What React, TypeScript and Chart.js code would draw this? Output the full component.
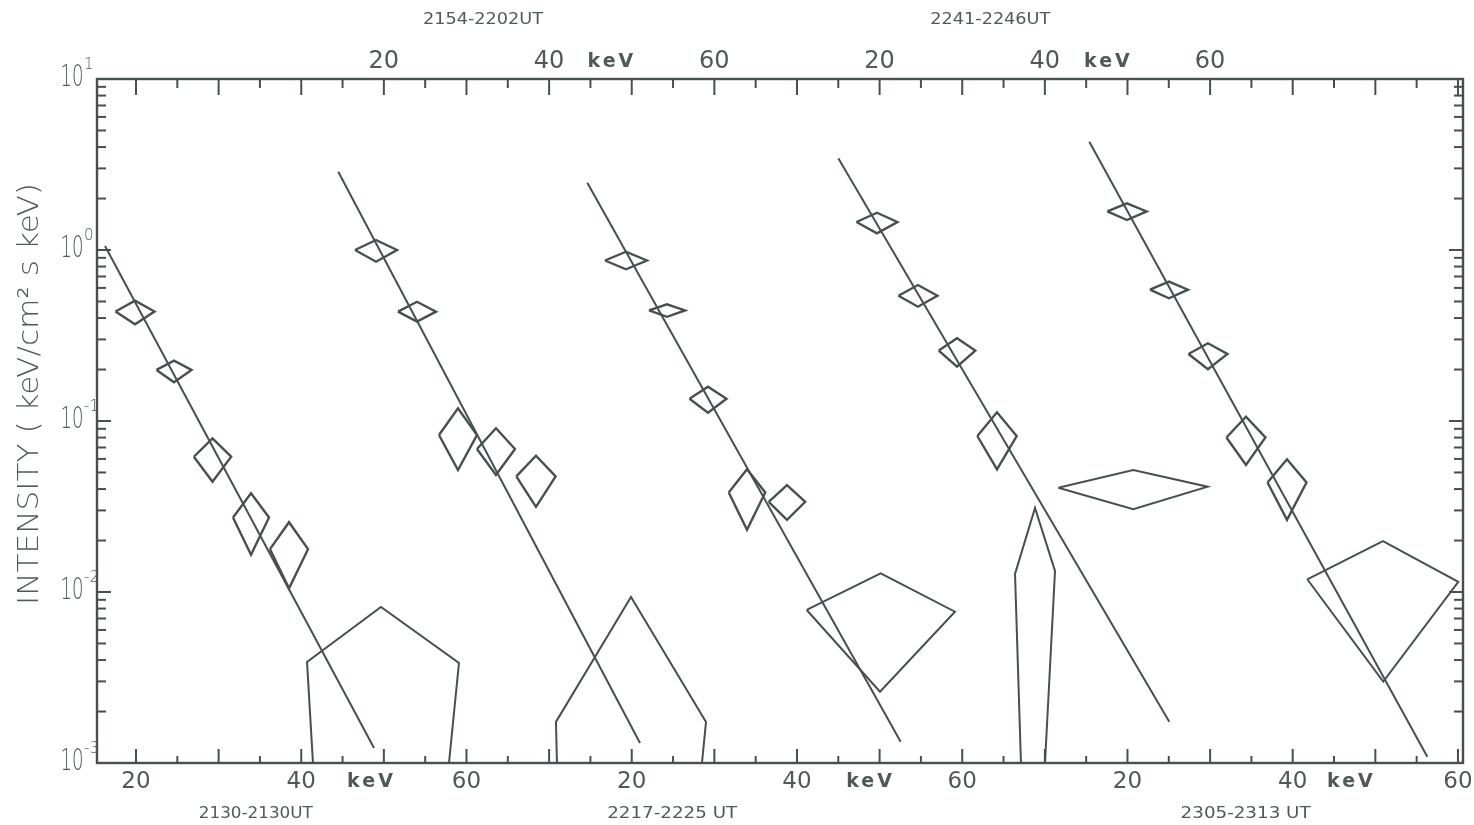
import React, { useEffect, useRef } from 'react';
import { Chart, registerables } from 'chart.js';

Chart.register(...registerables);

// ---- axis ranges (combined energy axis; each spectrum is offset along it) ----
const X_MIN = 15.28;
const X_MAX = 180.61;
const Y_MIN = 0.001;
const Y_MAX = 10;

// ---- time intervals of the five spectra ----
const bottomTimes = ['2130-2130UT', '2217-2225 UT', '2305-2313 UT'];
const bottomTimePos = [34.5, 84.9, 154.3];
const topTimes = ['2154-2202UT', '2241-2246UT'];
const topTimePos = [62.0, 123.4];

// ---- axis tick labels ----
const bottomLabelPos = [20, 40, 48.5, 60, 80, 100, 108.9, 120, 140, 160, 167.1, 180];
const bottomLabelText = ['20', '40', 'keV', '60', '20', '40', 'keV', '60', '20', '40', 'keV', '60'];
const topLabelPos = [50, 70, 77.6, 90, 110, 130, 137.7, 150];
const topLabelText = ['20', '40', 'keV', '60', '20', '40', 'keV', '60'];
const yDecades = [0.001, 0.01, 0.1, 1, 10];
const yDecadeExp = ['-3', '-2', '-1', '0', '1'];

// ---- power-law fit lines: [start, end] ----
const fitEnergy = [
  [16.25, 48.81],
  [44.48, 81.0],
  [74.62, 112.55],
  [105.0, 145.06],
  [135.38, 176.29],
];
const fitIntensity = [
  [1.055, 0.001225],
  [2.871, 0.001309],
  [2.475, 0.001332],
  [3.438, 0.001744],
  [4.298, 0.001088],
];

// ---- measured points (error diamonds) ----
const pointEnergy = [
  [19.88, 24.6, 29.26, 33.92, 38.52],
  [49.05, 54.01, 58.97, 63.57, 68.41],
  [79.3, 84.27, 89.23, 93.95, 98.79],
  [109.68, 114.64, 119.37, 124.21],
  [139.94, 145.02, 149.74, 154.34, 159.31],
];
const pointHalfWidth = [
  [2.36, 2.12, 2.26, 2.18, 2.3],
  [2.54, 2.3, 2.3, 2.3, 2.38],
  [2.54, 2.18, 2.24, 2.21, 2.21],
  [2.48, 2.36, 2.21, 2.38],
  [2.38, 2.3, 2.36, 2.36, 2.36],
];
const pointIntensity = [
  [0.437, 0.199, 0.0618, 0.0273, 0.0178],
  [1.0, 0.436, 0.0828, 0.0686, 0.0474],
  [0.868, 0.443, 0.135, 0.0382, 0.0337],
  [1.458, 0.54, 0.258, 0.0817],
  [1.68, 0.586, 0.2465, 0.0801, 0.0437],
];
const pointHigh = [
  [0.505, 0.2253, 0.0792, 0.0378, 0.0256],
  [1.144, 0.498, 0.1187, 0.0907, 0.0627],
  [0.977, 0.481, 0.1587, 0.0522, 0.0422],
  [1.652, 0.624, 0.3045, 0.1124],
  [1.876, 0.653, 0.2847, 0.106, 0.0597],
];
const pointLow = [
  [0.368, 0.1684, 0.0442, 0.0165, 0.0105],
  [0.854, 0.381, 0.0517, 0.0483, 0.0315],
  [0.771, 0.407, 0.1118, 0.0231, 0.0264],
  [1.252, 0.466, 0.2077, 0.0522],
  [1.497, 0.522, 0.2006, 0.0553, 0.0264],
];

// ---- high-energy outlines (upper-limit / wide-bin shapes) ----
const outlineEnergy = [
  [41.42, 40.7, 49.65, 59.09, 57.88],
  [70.95, 70.83, 79.91, 88.99, 88.5],
  [101.18, 110.13, 119.12, 110.05, 101.18],
  [127.11, 126.39, 128.81, 131.23, 130.02],
  [131.63, 140.7, 149.71, 140.7, 131.63],
  [161.76, 170.92, 180.04, 170.96, 161.76],
];
const outlineIntensity = [
  [0.001, 0.0039, 0.00818, 0.00385, 0.001],
  [0.001, 0.00174, 0.00935, 0.00174, 0.001],
  [0.00785, 0.01287, 0.00767, 0.00261, 0.00785],
  [0.001, 0.01275, 0.031, 0.01327, 0.001],
  [0.0407, 0.0517, 0.0413, 0.0305, 0.0407],
  [0.01187, 0.01987, 0.01148, 0.00299, 0.01187],
];

const INK = '#475050';
const TEXT = '#505858';
const FONT = "'DejaVu Sans', sans-serif";

function buildDatasets() {
  const ds: any[] = [];
  const base = {
    type: 'line',
    pointRadius: 0,
    borderColor: INK,
    backgroundColor: 'transparent',
    fill: false,
    tension: 0,
  };
  fitEnergy.forEach((e, i) => {
    ds.push({
      ...base,
      borderWidth: 2,
      data: e.map((x, k) => ({ x, y: fitIntensity[i][k] })),
    });
  });
  pointEnergy.forEach((row, p) => {
    row.forEach((e, k) => {
      const w = pointHalfWidth[p][k];
      const m = pointIntensity[p][k];
      ds.push({
        ...base,
        borderWidth: 2.4,
        data: [
          { x: e - w, y: m },
          { x: e, y: pointHigh[p][k] },
          { x: e + w, y: m },
          { x: e, y: pointLow[p][k] },
          { x: e - w, y: m },
        ],
      });
    });
  });
  outlineEnergy.forEach((row, i) => {
    ds.push({
      ...base,
      borderWidth: 2,
      data: row.map((x, k) => ({ x, y: outlineIntensity[i][k] })),
    });
  });
  return ds;
}

function drawText(ctx: CanvasRenderingContext2D, s: string, x: number, y: number, font: string, align: CanvasTextAlign = 'center', spacing = '0px') {
  ctx.save();
  ctx.font = font;
  ctx.textAlign = align;
  ctx.textBaseline = 'middle';
  (ctx as any).letterSpacing = spacing;
  ctx.fillText(s, x, y);
  ctx.restore();
}

function drawFitted(ctx: CanvasRenderingContext2D, s: string, cx: number, cy: number, font: string, width: number, rotate = 0) {
  ctx.save();
  ctx.font = font;
  const w = ctx.measureText(s).width;
  ctx.translate(cx, cy);
  ctx.rotate(rotate);
  ctx.scale(width / w, 1);
  ctx.textAlign = 'center';
  ctx.textBaseline = 'middle';
  ctx.fillText(s, 0, 0);
  ctx.restore();
}

const framePlugin = {
  id: 'frame',
  afterDraw(chart: any) {
    const { ctx, chartArea: a } = chart;
    const xs = chart.scales.x;
    const ys = chart.scales.y;
    ctx.save();
    ctx.strokeStyle = INK;
    ctx.fillStyle = TEXT;
    ctx.lineCap = 'butt';
    ctx.lineWidth = 2.4;
    ctx.strokeRect(a.left, a.top, a.right - a.left, a.bottom - a.top);

    const seg = (x1: number, y1: number, x2: number, y2: number) => {
      ctx.beginPath();
      ctx.moveTo(x1, y1);
      ctx.lineTo(x2, y2);
      ctx.stroke();
    };

    ctx.lineWidth = 2;
    for (let v = 20; v <= 180; v += 5) {
      const px = xs.getPixelForValue(v);
      const major = v % 10 === 0;
      seg(px, a.bottom, px, a.bottom - (major ? 14 : 7));
      seg(px, a.top, px, a.top + (major ? 16 : 9));
    }
    for (let d = 0; d < yDecades.length; d++) {
      for (let m = 1; m <= 9; m++) {
        const v = yDecades[d] * m;
        if (v > Y_MAX * 1.0001) break;
        const py = ys.getPixelForValue(v);
        const len = m === 1 ? 14 : 9;
        seg(a.left, py, a.left + len, py);
        seg(a.right, py, a.right - len, py);
      }
    }

    // bottom labels
    bottomLabelPos.forEach((v, i) => {
      const px = xs.getPixelForValue(v);
      const t = bottomLabelText[i];
      if (t === 'keV') drawText(ctx, t, px, a.bottom + 19, `600 19px ${FONT}`, 'center', '3px');
      else drawText(ctx, t, px, a.bottom + 19, `23px ${FONT}`);
    });
    topLabelPos.forEach((v, i) => {
      const px = xs.getPixelForValue(v);
      const t = topLabelText[i];
      if (t === 'keV') drawText(ctx, t, px, a.top - 17, `600 19px ${FONT}`, 'center', '3px');
      else drawText(ctx, t, px, a.top - 17, `24px ${FONT}`);
    });

    // y decade labels
    yDecades.forEach((v, i) => {
      const py = ys.getPixelForValue(v);
      drawFitted(ctx, '10', 72, py - 1, `300 30px ${FONT}`, 23);
      drawText(ctx, yDecadeExp[i], 84, py - 14, `300 15px ${FONT}`, 'left');
    });

    // time labels
    bottomTimes.forEach((s, i) => {
      drawFitted(ctx, s, xs.getPixelForValue(bottomTimePos[i]), 814, `16px ${FONT}`, s.includes(' ') ? 130 : 114);
    });
    topTimes.forEach((s, i) => {
      drawFitted(ctx, s, xs.getPixelForValue(topTimePos[i]), 20, `16px ${FONT}`, 120);
    });

    // y axis title
    drawFitted(ctx, 'INTENSITY ( keV/cm\u00B2 s keV)', 31, 394, `300 28px ${FONT}`, 422, -Math.PI / 2);
    ctx.restore();
  },
};

export default function App() {
  const ref = useRef<HTMLCanvasElement | null>(null);
  useEffect(() => {
    if (!ref.current) return;
    const chart = new Chart(ref.current, {
      type: 'line',
      data: { datasets: buildDatasets() },
      options: {
        animation: false,
        responsive: false,
        events: [],
        layout: { padding: { left: 97, top: 79, right: 11, bottom: 62 } },
        plugins: { legend: { display: false }, tooltip: { enabled: false } },
        scales: {
          x: { type: 'linear', display: false, min: X_MIN, max: X_MAX },
          y: { type: 'logarithmic', display: false, min: Y_MIN, max: Y_MAX },
        },
      },
      plugins: [framePlugin],
    } as any);
    return () => chart.destroy();
  }, []);
  return (
    <div style={{ position: 'fixed', left: 0, top: 0, width: 1474, height: 825, background: '#fff' }}>
      <canvas ref={ref} width={1474} height={825} style={{ display: 'block', width: 1474, height: 825 }} />
    </div>
  );
}
